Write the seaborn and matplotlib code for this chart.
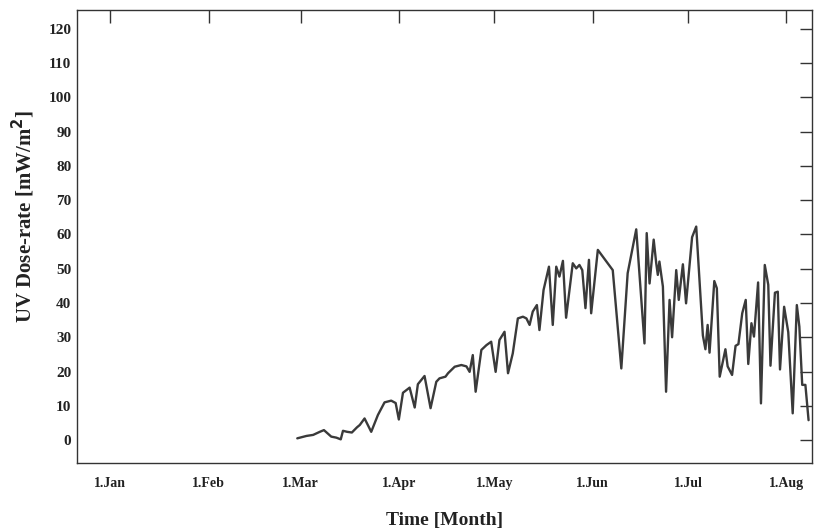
import matplotlib
matplotlib.use("Agg")
import matplotlib.pyplot as plt
import seaborn as sns
import pandas as pd
import numpy as np

# Day of year (leap year, 1 Jan = 0) and UV dose-rate [mW/m^2]
day_of_year = [
    58.9, 61.8, 63.9, 66.0, 67.3, 69.6, 71.2, 72.6, 73.3, 74.6, 76.1, 77.7,
    78.6, 80.1, 82.2, 84.3, 86.4, 88.5, 89.9, 90.9, 92.2, 94.3, 95.9, 96.9,
    99.0, 100.9, 102.7, 103.7, 105.6, 106.4, 108.5, 110.6, 112.2, 113.2, 114.2,
    115.1, 116.9, 118.5, 120.0, 121.4, 122.6, 124.2, 125.3, 126.8, 128.4, 130.0,
    131.1, 132.1, 133.1, 134.4, 135.2, 136.5, 138.2, 139.4, 140.5, 141.5, 142.6,
    143.6, 145.7, 146.8, 147.8, 148.7, 149.7, 150.8, 151.5, 153.6, 158.3, 161.0,
    163.0, 165.7, 168.3, 169.0, 169.9, 170.4, 171.2, 172.0, 172.5, 173.0, 174.1,
    175.1, 176.2, 177.0, 178.3, 179.1, 180.4, 181.4, 183.3, 184.6, 186.7, 187.5,
    188.2, 188.8, 190.3, 191.1, 192.0, 193.8, 194.5, 195.9, 197.0, 197.9, 199.1,
    200.2, 201.0, 202.0, 202.8, 204.1, 205.0, 206.2, 207.3, 208.0, 209.4, 210.3,
    211.0, 212.3, 213.6, 215.0, 216.3, 217.1, 218.0, 219.0, 220.0,
]
dose_rate = [
    0.5, 1.2, 1.5, 2.4, 2.9, 1.0, 0.7, 0.2, 2.7, 2.4, 2.2, 3.7,
    4.4, 6.3, 2.4, 7.3, 11.0, 11.5, 10.8, 6.0, 13.8, 15.3, 9.5, 16.3,
    18.7, 9.3, 17.0, 18.0, 18.5, 19.5, 21.4, 21.9, 21.5, 19.9, 24.8,
    14.1, 26.3, 27.7, 28.7, 19.9, 29.2, 31.6, 19.5, 25.3, 35.5, 36.0,
    35.5, 33.6, 37.5, 39.4, 32.1, 43.8, 50.6, 33.6, 50.6, 47.7, 52.3,
    35.7, 51.6, 50.1, 51.1, 49.6, 38.5, 52.6, 37.0, 55.5, 49.6, 20.9,
    48.7, 61.5, 28.2, 60.4, 45.7, 50.6, 58.5, 51.6, 48.2, 52.1, 44.8,
    14.1, 40.9, 30.0, 49.6, 40.9, 51.3, 39.9, 59.2, 62.3, 30.5, 26.5,
    33.6, 25.5, 46.4, 44.3, 18.5, 26.5, 21.5, 19.0, 27.5, 28.0, 37.0,
    40.9, 22.2, 34.1, 30.2, 46.0, 10.7, 51.1, 45.3, 21.7, 43.0, 43.3,
    20.6, 38.9, 31.5, 7.8, 39.4, 33.1, 16.1, 16.1, 5.8,
]

month_start_doy = [0, 31, 60, 91, 121, 152, 182, 213]
month_labels = ["1.Jan", "1.Feb", "1.Mar", "1.Apr", "1.May", "1.Jun", "1.Jul", "1.Aug"]
y_ticks = list(range(0, 121, 10))

df = pd.DataFrame({"day": day_of_year, "dose": dose_rate})

sns.set_theme(style="white")
plt.rcParams["font.family"] = ["Liberation Serif", "DejaVu Serif"]

fig = plt.figure(figsize=(8.15, 5.32), dpi=100)
ax = fig.add_axes([0.0945, 0.1297, 0.9015, 0.8514])

sns.lineplot(data=df, x="day", y="dose", ax=ax, color="#3a3a3a",
             linewidth=1.7, estimator=None, sort=False)

ax.set_xlim(-10.5, 221)
ax.set_ylim(-6.7, 125.5)
ax.set_xticks(month_start_doy)
ax.set_xticklabels(month_labels, fontsize=10, fontweight="bold")
ax.set_yticks(y_ticks)
ax.set_yticklabels([str(v) for v in y_ticks], fontsize=11, fontweight="bold")

ax.tick_params(axis="both", which="major", direction="in", length=9,
               width=1.0, color="#333333", top=True, right=True,
               labelcolor="#222222")
ax.tick_params(axis="x", pad=10)
ax.tick_params(axis="y", pad=4)

for s in ax.spines.values():
    s.set_visible(True)
    s.set_color("#333333")
    s.set_linewidth(1.0)

ax.set_xlabel("Time [Month]", fontsize=14, fontweight="bold", color="#222222")
ax.set_ylabel("UV Dose-rate [mW/m$^\\mathbf{2}$]", fontsize=15,
              fontweight="bold", color="#222222")
ax.xaxis.set_label_coords(0.5, -0.108)
ax.yaxis.set_label_coords(-0.055, 0.545)

fig.savefig("out.png", dpi=100, facecolor="white")
